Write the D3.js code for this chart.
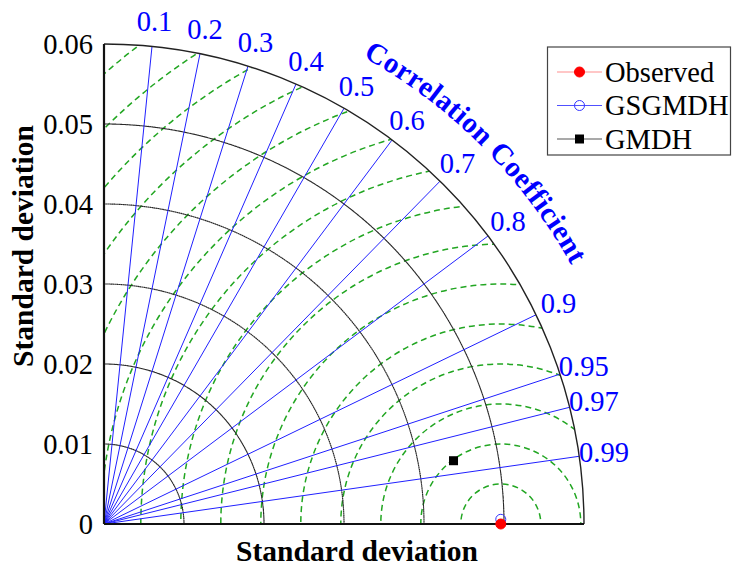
<!DOCTYPE html>
<html>
<head>
<meta charset="utf-8">
<script src="https://cdn.jsdelivr.net/npm/d3@7"></script>
<style>
  html, body { margin: 0; padding: 0; background: #fff; }
  svg { display: block; }
  text { font-family: "Liberation Serif", "Times New Roman", serif; }
</style>
</head>
<body>
<div id="chart"></div>
<script>
// ---- data ----
const stdTicks = [0, 0.01, 0.02, 0.03, 0.04, 0.05, 0.06];
const stdTickLabels = ["0", "0.01", "0.02", "0.03", "0.04", "0.05", "0.06"];
const corrTicks = [0.1, 0.2, 0.3, 0.4, 0.5, 0.6, 0.7, 0.8, 0.9, 0.95, 0.97, 0.99];
const corrTickLabels = ["0.1", "0.2", "0.3", "0.4", "0.5", "0.6", "0.7", "0.8", "0.9", "0.95", "0.97", "0.99"];
const rmsLevels = [0.005, 0.01, 0.015, 0.02, 0.025, 0.03, 0.035, 0.04, 0.045, 0.05, 0.055, 0.06, 0.065, 0.07, 0.075];
const models = ["Observed", "GSGMDH", "GMDH"];
const modelStd = [0.0496, 0.0496, 0.0444];
const modelCorr = [1.0, 0.99993, 0.984];
const corrTitle = "Correlation Coefficient";
const axisTitle = "Standard deviation";

// ---- layout ----
const W = 732, H = 567;
const ox = 104, oy = 524;
const maxStd = 0.06;
const R = 480;
const FS = 28.5;

const svg = d3.select("#chart").append("svg").attr("width", W).attr("height", H);
const r = d3.scaleLinear().domain([0, maxStd]).range([0, R]);
const yScale = d3.scaleLinear().domain([0, maxStd]).range([oy, oy - R]);

const pol = (s, c) => {
  const th = Math.acos(c);
  return [ox + r(s) * Math.cos(th), oy - r(s) * Math.sin(th)];
};

// clip to the quarter disk
const clipPath = d3.path();
clipPath.moveTo(ox, oy);
clipPath.lineTo(ox + R, oy);
clipPath.arc(ox, oy, R, 0, -Math.PI / 2, true);
clipPath.closePath();
svg.append("clipPath").attr("id", "quarter").append("path").attr("d", clipPath.toString());

const g = svg.append("g");

// RMS contours (green dashed)
g.append("g").attr("clip-path", "url(#quarter)")
  .selectAll("circle").data(rmsLevels).join("circle")
  .attr("cx", ox + r(modelStd[0])).attr("cy", oy)
  .attr("r", d => r(d))
  .attr("fill", "none").attr("stroke", "#22a622").attr("stroke-width", 1.5)
  .attr("stroke-dasharray", "6,4");

// std arcs
const arc = d3.arc().startAngle(0).endAngle(Math.PI / 2);
g.append("g").attr("transform", `translate(${ox},${oy})`)
  .selectAll("path").data(stdTicks.filter(d => d > 0 && d < maxStd)).join("path")
  .attr("d", d => arc({innerRadius: r(d), outerRadius: r(d)}))
  .attr("fill", "none").attr("stroke", "#2a2a2a").attr("stroke-width", 1.1)
  .attr("stroke-dasharray", "1.5,0.6");

// correlation lines
g.append("g").selectAll("line").data(corrTicks).join("line")
  .attr("x1", ox).attr("y1", oy)
  .attr("x2", d => pol(maxStd, d)[0]).attr("y2", d => pol(maxStd, d)[1])
  .attr("stroke", "#2020ff").attr("stroke-width", 1);

// outer arc
g.append("path").attr("transform", `translate(${ox},${oy})`)
  .attr("d", arc({innerRadius: R, outerRadius: R}))
  .attr("fill", "none").attr("stroke", "#222").attr("stroke-width", 1.4);

// axes
g.append("line").attr("x1", ox).attr("y1", oy).attr("x2", ox).attr("y2", oy - R)
  .attr("stroke", "#111").attr("stroke-width", 2.2);
g.append("line").attr("x1", ox).attr("y1", oy).attr("x2", ox + R).attr("y2", oy)
  .attr("stroke", "#111").attr("stroke-width", 2.2);

// y tick labels via d3 axis
const yAxis = d3.axisLeft(yScale).tickValues(stdTicks)
  .tickFormat((d, i) => stdTickLabels[i]).tickSize(0).tickPadding(11);
const ya = svg.append("g").attr("transform", `translate(${ox},0)`).call(yAxis);
ya.select(".domain").remove();
ya.selectAll("text").attr("font-size", FS).attr("fill", "#000")
  .attr("font-family", "'Liberation Serif', 'Times New Roman', serif");

// correlation tick labels
svg.append("g").selectAll("text").data(corrTicks).join("text")
  .attr("x", d => ox + (R + 25) * d)
  .attr("y", d => oy - (R + 25) * Math.sin(Math.acos(d)))
  .attr("text-anchor", "middle").attr("dominant-baseline", "central")
  .attr("font-size", FS).attr("fill", "#0000ff")
  .text((d, i) => corrTickLabels[i]);

// curved title, one glyph at a time along an arc
const tr = 534, titleFS = 29, spacing = 0.5;
const chars = corrTitle.split("");
const meas = svg.append("text").attr("font-size", titleFS).attr("font-weight", "bold")
  .attr("visibility", "hidden");
const widths = chars.map(ch => {
  meas.text(ch === " " ? "\u00a0" : ch);
  return meas.node().getComputedTextLength() + spacing;
});
meas.remove();
const total = d3.sum(widths);
const mid = Math.PI / 4;
let acc = 0;
const glyphs = chars.map((ch, i) => {
  const centre = acc + widths[i] / 2;
  acc += widths[i];
  const a = mid + (total / 2 - centre) / tr;
  return {ch, a};
}).filter(d => d.ch !== " ");
svg.append("g").selectAll("text").data(glyphs).join("text")
  .attr("transform", d => `translate(${ox + tr * Math.cos(d.a)},${oy - tr * Math.sin(d.a)}) rotate(${90 - d.a * 180 / Math.PI})`)
  .attr("text-anchor", "middle").attr("font-size", titleFS).attr("font-weight", "bold")
  .attr("fill", "#0000ff").text(d => d.ch);

// axis titles
svg.append("text").attr("x", 357).attr("y", 561).attr("text-anchor", "middle")
  .attr("font-size", 29.5).attr("font-weight", "bold").text(axisTitle);
svg.append("text").attr("transform", "translate(33,246) rotate(-90)").attr("text-anchor", "middle")
  .attr("font-size", 29.5).attr("font-weight", "bold").text(axisTitle);

// markers
const styles = [
  {type: "circle", fill: "#ff0000", stroke: "#ff0000", line: "#ff9090", size: 5},
  {type: "circle", fill: "none", stroke: "#3333ff", line: "#5050ff", size: 5},
  {type: "square", fill: "#000", stroke: "#000", line: "#555", size: 9}
];
function drawMarker(sel, st, x, y) {
  if (st.type === "circle") {
    sel.append("circle").attr("cx", x).attr("cy", y).attr("r", st.size)
      .attr("fill", st.fill).attr("stroke", st.stroke).attr("stroke-width", 1);
  } else {
    sel.append("rect").attr("x", x - st.size / 2).attr("y", y - st.size / 2)
      .attr("width", st.size).attr("height", st.size).attr("fill", st.fill);
  }
}
const mg = svg.append("g");
[1, 0, 2].forEach(i => {
  const p = pol(modelStd[i], modelCorr[i]);
  drawMarker(mg, styles[i], p[0], p[1]);
});

// legend
const lg = svg.append("g");
lg.append("rect").attr("x", 547.5).attr("y", 47).attr("width", 183).attr("height", 108)
  .attr("fill", "#fff").attr("stroke", "#444").attr("stroke-width", 1.2);
models.forEach((m, i) => {
  const y = 72 + i * 33.5;
  lg.append("line").attr("x1", 557).attr("x2", 602).attr("y1", y).attr("y2", y)
    .attr("stroke", styles[i].line).attr("stroke-width", 1.2);
  drawMarker(lg, styles[i], 579.5, y);
  lg.append("text").attr("x", 605).attr("y", y).attr("dominant-baseline", "central")
    .attr("font-size", FS).attr("fill", "#000").text(m);
});
</script>
</body>
</html>
